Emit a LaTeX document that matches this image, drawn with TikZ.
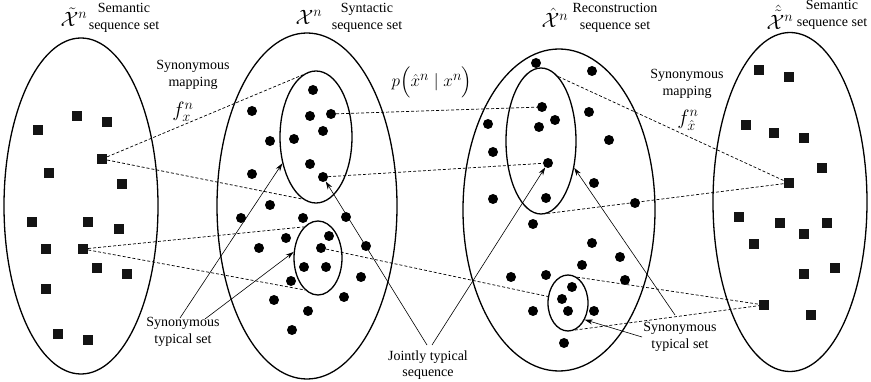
\documentclass[tikz,border=0pt]{standalone}
\usepackage{amsmath}
\usepackage{fontspec}
\setmainfont{Liberation Serif}
\usetikzlibrary{shapes.geometric,arrows.meta}
\begin{document}
\begin{tikzpicture}[x=1pt,y=-1pt,
  bigell/.style={ellipse,draw,line width=1.3pt,inner sep=0pt},
  dot/.style={circle,fill=black,minimum size=10pt,inner sep=0pt},
  sq/.style={rectangle,fill=black!92,minimum size=10pt,inner sep=0pt},
  map/.style={dash pattern=on 3pt off 2pt,line width=0.7pt},
  ptr/.style={line width=0.6pt,-{Stealth[length=8pt,width=5pt]}},
  lbl/.style={font=\rmfamily\fontsize{14}{16.5}\selectfont,align=center,inner sep=0pt},
  sym/.style={inner sep=0pt}
]
\useasboundingbox (0,0) rectangle (871,382);

% big ellipses
\node[bigell,minimum width=154pt,minimum height=336pt] (E1) at (81,206) {};
\node[bigell,minimum width=180pt,minimum height=346pt] (E2) at (307,206) {};
\node[bigell,minimum width=72pt,minimum height=132pt] (E2a) at (316,137) {};
\node[bigell,minimum width=48pt,minimum height=74pt] (E2b) at (318,258) {};
\node[bigell,minimum width=192pt,minimum height=322pt] (E3) at (559,210) {};
\node[bigell,minimum width=70pt,minimum height=146pt] (E3a) at (541,141) {};
\node[bigell,minimum width=40pt,minimum height=56pt] (E3b) at (568,303) {};
\node[bigell,minimum width=154pt,minimum height=339pt] (E4) at (790,202) {};

% left squares
\node[sq] (s1) at (77,116) {};
\node[sq] (s2) at (107,122) {};
\node[sq] (s3) at (38,130) {};
\node[sq] (s4) at (102,159) {};
\node[sq] (s5) at (49,173) {};
\node[sq] (s6) at (122,184) {};
\node[sq] (s7) at (32,222) {};
\node[sq] (s8) at (88,222) {};
\node[sq] (s9) at (119,229) {};
\node[sq] (s10) at (46,249) {};
\node[sq] (s11) at (83,249) {};
\node[sq] (s12) at (97,268) {};
\node[sq] (s13) at (127,274) {};
\node[sq] (s14) at (46,289) {};
\node[sq] (s15) at (58,334) {};
\node[sq] (s16) at (88,340) {};

% middle dots
\node[dot] (m1) at (313,90) {};
\node[dot] (m2) at (252,111) {};
\node[dot] (m3) at (310,116) {};
\node[dot] (m4) at (331,114) {};
\node[dot] (m5) at (323,131) {};
\node[dot] (m6) at (270,141) {};
\node[dot] (m7) at (294,139) {};
\node[dot] (m8) at (252,174) {};
\node[dot] (m9) at (310,164) {};
\node[dot] (m10) at (323,177) {};
\node[dot] (m11) at (270,205) {};
\node[dot] (m12) at (241,218) {};
\node[dot] (m13) at (303,218) {};
\node[dot] (m14) at (346,217) {};
\node[dot] (m15) at (329,236) {};
\node[dot] (m16) at (286,238) {};
\node[dot] (m17) at (259,248) {};
\node[dot] (m18) at (321,248) {};
\node[dot] (m19) at (366,246) {};
\node[dot] (m20) at (304,267) {};
\node[dot] (m21) at (326,267) {};
\node[dot] (m22) at (291,281) {};
\node[dot] (m23) at (361,277) {};
\node[dot] (m24) at (274,300) {};
\node[dot] (m25) at (344,297) {};
\node[dot] (m26) at (308,311) {};
\node[dot] (m27) at (292,330) {};

% reconstruction dots
\node[dot] (r1) at (536,63) {};
\node[dot] (r2) at (592,71) {};
\node[dot] (r3) at (542,107) {};
\node[dot] (r4) at (555,120) {};
\node[dot] (r5) at (539,127) {};
\node[dot] (r6) at (589,112) {};
\node[dot] (r7) at (488,124) {};
\node[dot] (r8) at (609,140) {};
\node[dot] (r9) at (493,152) {};
\node[dot] (r10) at (548,163) {};
\node[dot] (r11) at (594,183) {};
\node[dot] (r12) at (493,199) {};
\node[dot] (r13) at (546,198) {};
\node[dot] (r14) at (635,203) {};
\node[dot] (r15) at (533,224) {};
\node[dot] (r16) at (592,243) {};
\node[dot] (r17) at (620,257) {};
\node[dot] (r18) at (582,265) {};
\node[dot] (r19) at (511,277) {};
\node[dot] (r20) at (546,275) {};
\node[dot] (r21) at (625,280) {};
\node[dot] (r22) at (572,287) {};
\node[dot] (r23) at (562,299) {};
\node[dot] (r24) at (568,311) {};
\node[dot] (r25) at (533,311) {};
\node[dot] (r26) at (594,311) {};
\node[dot] (r27) at (564,343) {};

% right squares
\node[sq] (t1) at (759,70) {};
\node[sq] (t2) at (789,77) {};
\node[sq] (t3) at (746,125) {};
\node[sq] (t4) at (774,133) {};
\node[sq] (t5) at (804,138) {};
\node[sq] (t6) at (822,168) {};
\node[sq] (t7) at (789,183) {};
\node[sq] (t8) at (739,217) {};
\node[sq] (t9) at (780,223) {};
\node[sq] (t10) at (827,223) {};
\node[sq] (t11) at (804,234) {};
\node[sq] (t12) at (754,244) {};
\node[sq] (t13) at (804,274) {};
\node[sq] (t14) at (835,268) {};
\node[sq] (t15) at (764,305) {};
\node[sq] (t16) at (811,315) {};

% titles
\node[sym] (symA) at (74,17) {\fontsize{22}{22}\selectfont$\tilde{\mathcal{X}}^n$};
\node[lbl] (labA) at (124,18) {Semantic\\sequence set};
\node[sym] (symB) at (309,17) {\fontsize{22}{22}\selectfont$\mathcal{X}^n$};
\node[lbl] (labB) at (367,18) {Syntactic\\sequence set};
\node[sym] (symC) at (555,18) {\fontsize{22}{22}\selectfont$\hat{\mathcal{X}}^n$};
\node[lbl] (labC) at (615,18) {Reconstruction\\sequence set};
\node[sym] (symD) at (780,17) {\fontsize{22}{22}\selectfont$\hat{\tilde{\mathcal{X}}}^n$};
\node[lbl] (labD) at (832,15) {Semantic\\sequence set};

% mapping labels
\node[lbl] (mapL) at (193,75) {Synonymous\\mapping};
\node[sym] (fL) at (183,112) {\fontsize{20}{20}\selectfont$f_{x}^{n}$};
\node[lbl] (mapR) at (687,84) {Synonymous\\mapping};
\node[sym] (fR) at (688,120) {\fontsize{20}{20}\selectfont$f_{\hat{x}}^{n}$};
\node[sym] (pc) at (432,82) {\fontsize{19}{19}\selectfont$p\Bigl(\hat{x}^n \mid x^n\Bigr)$};

% bottom labels
\node[lbl] (stL) at (183,332) {Synonymous\\typical set};
\node[lbl] (jts) at (428,365) {Jointly typical\\sequence};
\node[lbl] (stR) at (680,337) {Synonymous\\typical set};

\coordinate (a1s) at (180,318);
\coordinate (a2s) at (205,319);
\coordinate (j1s) at (427,345);
\coordinate (j2s) at (432,345);
\coordinate (b1s) at (675,315);
\coordinate (b2s) at (642,337);

% dashed mappings
\draw[map] (s4) -- (E2a.102);
\draw[map] (s4) -- (E2a.258);
\draw[map] (s11) -- (E2b.114);
\draw[map] (s11) -- (E2b.248);
\draw[map] (m4) -- (r3);
\draw[map] (m10) -- (r10);
\draw[map] (m18) -- (E3b.162);
\draw[map] (E3a.75) -- (t7);
\draw[map] (E3a.275) -- (t7);
\draw[map] (E3b.71) -- (t15);
\draw[map] (E3b.284) -- (t15);

% pointers
\draw[ptr] (a1s) -- (E2a.218);
\draw[ptr] (a2s) -- (E2b.166);
\draw[ptr] (j1s) -- (m10);
\draw[ptr] (j2s) -- (r10);
\draw[ptr] (b1s) -- (E3a.321);
\draw[ptr] (b2s) -- (E3b.315);
\end{tikzpicture}
\end{document}
